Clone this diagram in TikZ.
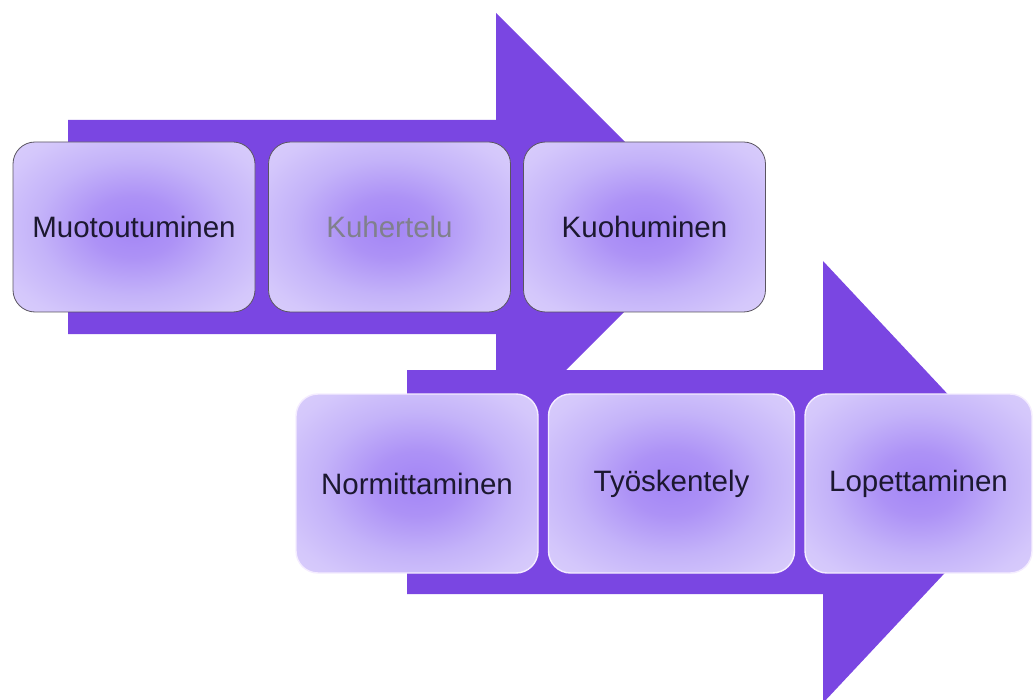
\documentclass[tikz,border=0pt]{standalone}
\usepackage{fontspec}
\setmainfont{Liberation Sans}
\definecolor{arrowpurple}{HTML}{7A46E2}
\definecolor{txtdark}{HTML}{1C1830}
\definecolor{txtgray}{HTML}{80808C}
\definecolor{topborder}{HTML}{5A5560}
\definecolor{botborder}{HTML}{F4ECFF}
\definecolor{shA}{HTML}{A385F5}
\definecolor{shB}{HTML}{AD92F6}
\definecolor{shC}{HTML}{C4B3F9}
\definecolor{shD}{HTML}{D4C7FB}
\definecolor{shE}{HTML}{DCD2FC}
\definecolor{shF}{HTML}{E0D7FD}
\pgfdeclareradialshading{boxshade}{\pgfpoint{0bp}{0bp}}{%
  color(0bp)=(shA);
  color(9bp)=(shB);
  color(20bp)=(shC);
  color(30bp)=(shD);
  color(40bp)=(shE);
  color(50bp)=(shF)}
\begin{document}
\begin{tikzpicture}[x=1pt,y=-1pt,
  arrowshape/.style={fill=arrowpurple, draw=none},
  stagebox/.style={rectangle, rounded corners=22pt, shading=boxshade,
    inner sep=0pt, font=\fontsize{29.5}{33}\selectfont, text=txtdark},
  topbox/.style={stagebox, draw=topborder, line width=0.8pt,
    minimum width=242pt, minimum height=170pt},
  botbox/.style={stagebox, draw=botborder, line width=1.4pt,
    minimum height=179pt}]
\useasboundingbox (0,0) rectangle (1035,700);
\clip (0,0) rectangle (1035,700);
% big arrows
\fill[arrowshape] (68,120) -- (496,120) -- (496,13) -- (709.5,226.5)
  -- (496,440) -- (496,334) -- (68,334) -- cycle;
\fill[arrowshape] (407,370) -- (823,370) -- (823,261) -- (1030,482)
  -- (823,703) -- (823,594) -- (407,594) -- cycle;
% top row
\node[topbox] (muo) at (134,227) {Muotoutuminen};
\node[topbox, text=txtgray] (kuh) at (389.5,227) {Kuhertelu};
\node[topbox] (kuo) at (644.5,227) {Kuohuminen};
% bottom row
\node[botbox, minimum width=242pt] (nor) at (417,483.5) {Normittaminen};
\node[botbox, minimum width=246pt] (tyo) at (671.5,483.5) {Työskentely};
\node[botbox, minimum width=227pt] (lop) at (918.5,483.5) {Lopettaminen};
\end{tikzpicture}
\end{document}
